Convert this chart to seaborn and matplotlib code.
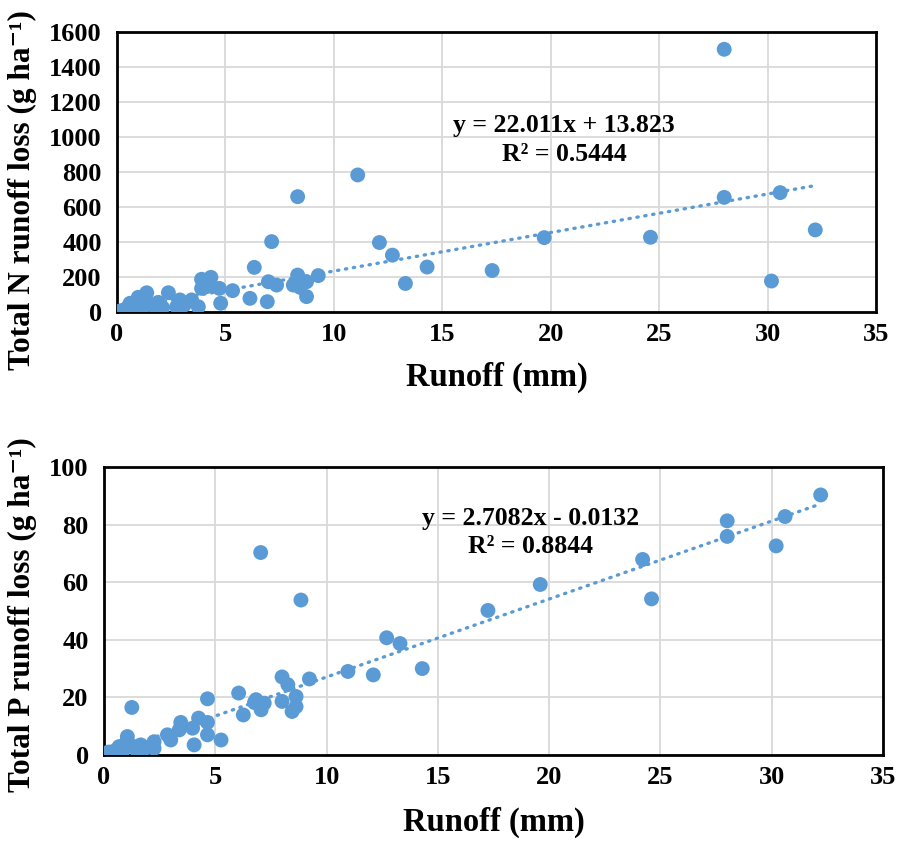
import numpy as np
import pandas as pd
import seaborn as sns
import matplotlib
matplotlib.use("Agg")
import matplotlib.pyplot as plt

# runoff (mm) vs total N loss (g/ha)
n_runoff = [0.0, 0.2, 0.45, 0.6, 0.7, 0.9, 0.98, 1.1, 1.2, 1.37, 1.5, 1.75, 1.9, 2.1,
            2.37, 2.75, 2.9, 3.1, 3.44, 3.75, 3.9, 3.9, 4.13, 4.33, 4.72, 4.78, 5.33,
            6.13, 6.33, 6.93, 6.98, 7.13, 7.36, 8.13, 8.33, 8.33, 8.44, 8.74, 8.74, 9.28,
            11.1, 12.1, 12.7, 13.3, 14.3, 17.3, 19.7, 24.6, 28.0, 28.0, 30.18, 30.58, 32.2]
n_loss = [0, 8, 21, 50, 15, 35, 84, 20, 30, 110, 45, 30, 55, 25,
          110, 30, 69, 40, 69, 30, 135, 187, 145, 198, 135, 50, 122,
          78, 255, 59, 173, 402, 154, 154, 211, 659, 141, 173, 88, 208,
          783, 397, 325, 163, 257, 237, 425, 427, 655, 1501, 177, 682, 469]

# runoff (mm) vs total P loss (g/ha)
p_runoff = [0.0, 0.2, 0.37, 0.6, 0.68, 0.85, 0.98, 1.05, 1.25, 1.3, 1.5, 1.65, 1.9, 2.25,
            2.25, 2.85, 3.0, 3.38, 3.45, 3.98, 4.05, 4.25, 4.65, 4.65, 4.65, 5.26, 6.05,
            6.26, 6.76, 6.83, 7.04, 7.06, 7.2, 8.0, 8.0, 8.26, 8.45, 8.63, 8.63, 8.85,
            9.23, 10.96, 12.1, 12.7, 13.3, 14.3, 17.25, 19.6, 24.2, 24.6, 28.0, 28.0,
            30.2, 30.6, 32.2]
p_loss = [0, 1.0, 1.1, 2.0, 2.9, 1.5, 4.1, 6.4, 16.5, 3.0, 1.1, 3.5, 2.5, 2.3,
          4.6, 7.0, 5.2, 8.7, 11.3, 9.3, 3.5, 12.8, 7.0, 11.3, 19.5, 5.2, 21.5,
          13.9, 18.2, 19.2, 70.3, 15.7, 18.0, 18.6, 27.1, 24.4, 15.1, 20.3, 16.8, 53.8,
          26.4, 29.0, 27.8, 40.7, 38.7, 30.0, 50.2, 59.2, 67.9, 54.2, 81.3, 75.9,
          72.6, 82.8, 90.3]

# trendline coefficients as printed on the chart
n_fit = (22.011, 13.823, "y = 22.011x + 13.823", "R² = 0.5444")
p_fit = (2.7082, -0.0132, "y = 2.7082x - 0.0132", "R² = 0.8844")

sns.set_theme(style="whitegrid")
plt.rcParams['font.family'] = ['Liberation Serif', 'DejaVu Serif']
plt.rcParams['font.weight'] = 'bold'
for key in ['text.color', 'axes.labelcolor', 'xtick.color', 'ytick.color']:
    plt.rcParams[key] = 'black'

blue = "#5B9BD5"
fig = plt.figure(figsize=(8.98, 8.41), dpi=100)
ax1 = fig.add_axes([0.1303, 0.629, 0.8452, 0.333])
ax2 = fig.add_axes([0.1158, 0.1023, 0.8675, 0.3424])


def panel(ax, x, y, fit, ylabel, ymax, ystep, text_xy, ylab_xy, xpad):
    df = pd.DataFrame({"x": x, "y": y})
    sns.scatterplot(data=df, x="x", y="y", ax=ax, color=blue, s=115,
                    edgecolor="none", zorder=3)
    xs = np.array([min(x), max(x)])
    sns.lineplot(x=xs, y=fit[0] * xs + fit[1], ax=ax, color=blue, lw=2.4,
                 linestyle=(0, (0.4, 2.0)), dash_capstyle="round", zorder=4)
    ax.set_xlim(0, 35)
    ax.set_ylim(0, ymax)
    ax.set_xticks(range(0, 36, 5))
    ax.set_yticks(range(0, ymax + 1, ystep))
    ax.grid(True, color="#d9d9d9", lw=1.3)
    for sp in ax.spines.values():
        sp.set_visible(True)
        sp.set_color("black")
        sp.set_linewidth(2)
    ax.tick_params(labelsize=19, length=0)
    ax.tick_params(axis="y", pad=11)
    ax.tick_params(axis="x", pad=8)
    for lab in ax.get_xticklabels() + ax.get_yticklabels():
        lab.set_fontweight("bold")
    ax.set_xlabel("Runoff (mm)", fontsize=23.5, fontweight="bold", labelpad=xpad)
    ax.set_ylabel(ylabel, fontsize=22.5, fontweight="bold")
    ax.yaxis.set_label_coords(*ylab_xy)
    ax.text(text_xy[0], text_xy[1], fit[2] + "\n" + fit[3], transform=ax.transAxes,
            ha="center", va="center", fontsize=18.5, fontweight="bold",
            linespacing=1.3, zorder=5)


panel(ax1, n_runoff, n_loss, n_fit, "Total N runoff loss (g ha⁻¹)",
      1600, 200, (0.589, 0.614), (-0.105, 0.436), 11)
panel(ax2, p_runoff, p_loss, p_fit, "Total P runoff loss (g ha⁻¹)",
      100, 20, (0.547, 0.772), (-0.086, 0.486), 13)

fig.savefig("out.png", dpi=100)
